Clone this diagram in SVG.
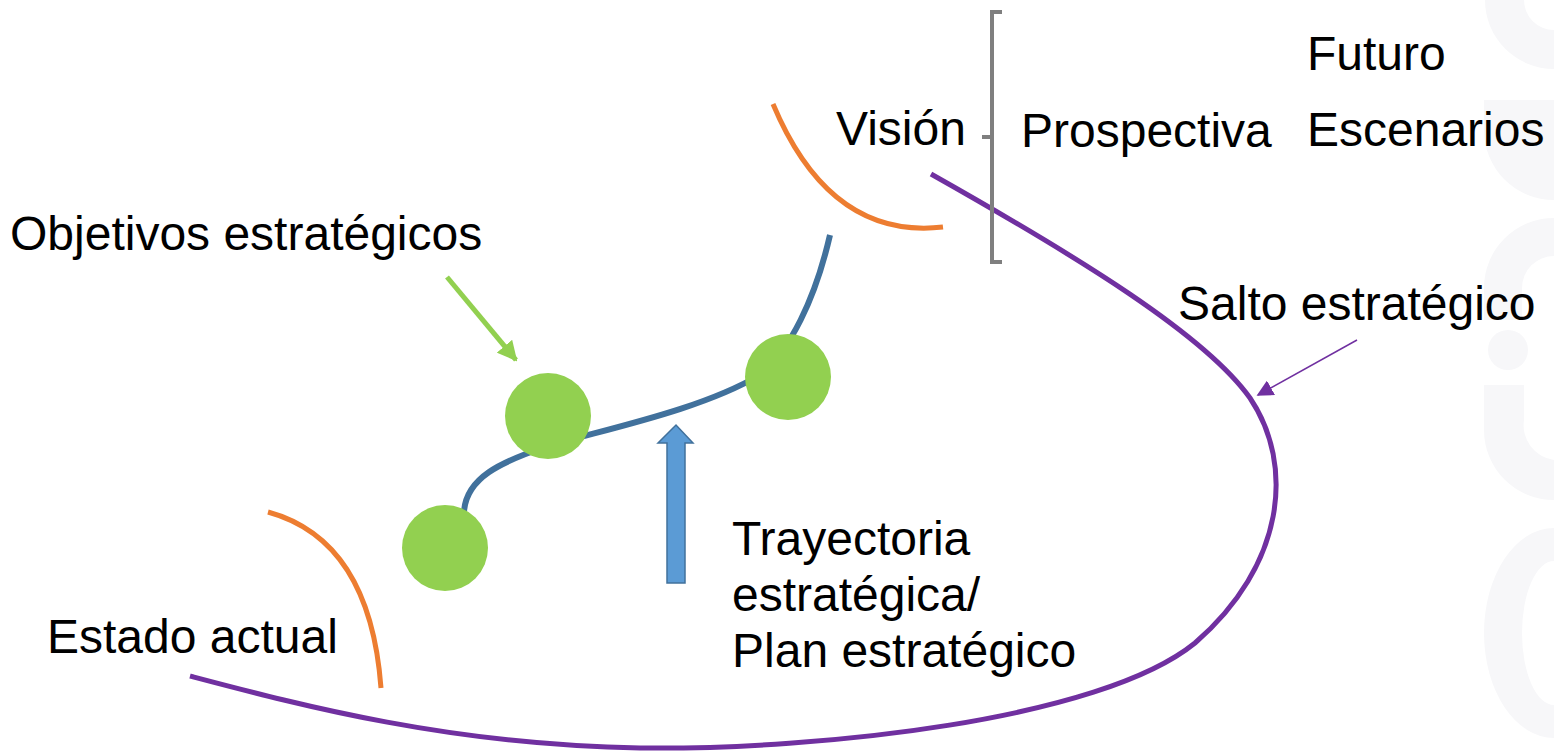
<svg xmlns="http://www.w3.org/2000/svg" width="1554" height="752" viewBox="0 0 1554 752">
<style>
text{font-family:"Liberation Sans",Arial,sans-serif;font-size:48px;fill:#000}
.wm{fill:#f7f7f9}
</style>
<defs>
<marker id="ag" viewBox="0 0 10 10" refX="9" refY="5" markerWidth="4" markerHeight="4" orient="auto" markerUnits="strokeWidth"><path d="M0,0 L10,5 L0,10 Z" fill="#92d050"/></marker>
<marker id="ap" viewBox="0 0 10 10" refX="9" refY="5" markerWidth="11" markerHeight="11" orient="auto" markerUnits="strokeWidth"><path d="M0,0 L10,5 L0,10 Z" fill="#7030a0"/></marker>
</defs>
<rect width="1554" height="752" fill="#fff"/>
<g id="watermark">
<path class="wm" d="M1485,0 A69,69 0 0 0 1554,69 L1554,30 A30,30 0 0 1 1524,0 Z"/>
<path class="wm" d="M1484,100 L1554,100 L1554,200 A70,70 0 0 1 1484,130 Z"/>
<path class="wm" d="M1554,218 A70,70 0 0 0 1484,288 L1484,320 L1522,320 L1522,288 A32,32 0 0 1 1554,256 Z"/>
<circle class="wm" cx="1508" cy="350" r="20"/>
<path class="wm" d="M1484,385 L1524,385 L1524,420 A35,35 0 0 0 1554,460 L1554,500 A70,70 0 0 1 1484,430 Z"/>
<path class="wm" d="M1554,528 A70,105 0 0 0 1484,633 A70,105 0 0 0 1554,738 L1554,705 A32,72 0 0 1 1522,633 A32,72 0 0 1 1554,561 Z"/>
</g>
<g id="connectors" fill="none">
<path id="salto" d="M931,174 C1080,258 1205,335 1250,398 C1295,465 1285,565 1195,643 C1100,720 820,750 640,748 C450,745 300,705 190,676" stroke="#7030a0" stroke-width="5"/>
<path id="trayectoria" d="M464,512 C466,478 500,462 548,446 C610,428 700,410 760,375 C790,350 815,300 830,235" stroke="#41719c" stroke-width="6"/>
<path id="estado-arc" d="M268,512 Q370,540 381,688" stroke="#ed7d31" stroke-width="5"/>
<path id="vision-arc" d="M773,104 Q830,240 943,227" stroke="#ed7d31" stroke-width="5"/>
<line x1="447" y1="277" x2="516" y2="360" stroke="#92d050" stroke-width="5" marker-end="url(#ag)"/>
<line x1="1357" y1="340" x2="1258" y2="395" stroke="#7030a0" stroke-width="1.5" marker-end="url(#ap)"/>
<path id="bracket" d="M1002,12 L992,12 L992,262 L1002,262 M992,137 L982,137" stroke="#7f7f7f" stroke-width="4"/>
<path id="block-arrow" d="M667,583 L667,443 L658,443 L676,425 L693,443 L685,443 L685,583 Z" fill="#5b9bd5" stroke="#41719c" stroke-width="1.5"/>
</g>
<g id="node-1"><circle cx="445" cy="548" r="43" fill="#92d050"/></g>
<g id="node-2"><circle cx="548" cy="416" r="43" fill="#92d050"/></g>
<g id="node-3"><circle cx="788" cy="377" r="43" fill="#92d050"/></g>
<g id="labels">
<text x="1307" y="70">Futuro</text>
<text x="1307" y="146">Escenarios</text>
<text x="1021" y="147">Prospectiva</text>
<text x="836" y="145">Visión</text>
<text x="10" y="250">Objetivos estratégicos</text>
<text x="1178" y="320">Salto estratégico</text>
<text x="732" y="555">Trayectoria</text>
<text x="732" y="611">estratégica/</text>
<text x="732" y="667">Plan estratégico</text>
<text x="47" y="653">Estado actual</text>
</g>
</svg>
